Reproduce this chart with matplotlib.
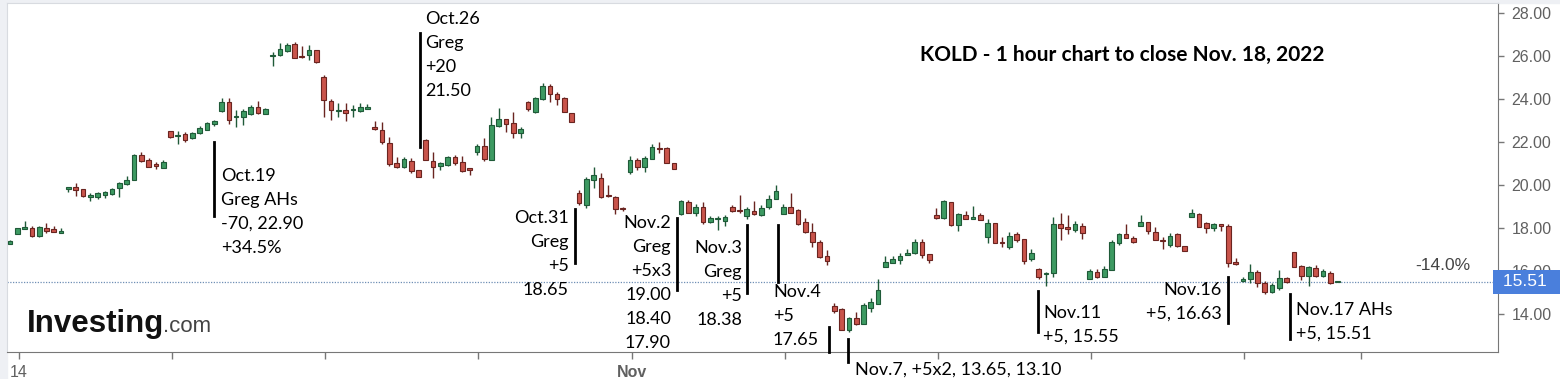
import numpy as np
import matplotlib
matplotlib.use("Agg")
import matplotlib.pyplot as plt
import matplotlib.transforms as mtransforms
from matplotlib.lines import Line2D
from matplotlib.patches import Rectangle

# KOLD hourly candles, Oct.14 -> Nov.18 2022
opens = [17.28, 17.73, 17.97, 18.00, 17.66, 18.00, 17.95, 17.77, 19.83, 19.93,
         19.81, 19.47, 19.47, 19.55, 19.60, 19.86, 20.05, 20.25, 21.41, 21.20,
         20.96, 20.82, 22.54, 22.28, 22.39, 22.19, 22.42, 22.57, 22.84, 23.46,
         23.86, 23.17, 23.19, 23.32, 23.63, 23.32, 26.00, 26.05, 26.25, 26.57,
         25.97, 26.04, 26.27, 25.02, 23.92, 23.45, 23.50, 23.48, 23.47, 23.53,
         22.73, 22.57, 21.95, 21.05, 20.87, 21.13, 20.71, 22.13, 21.13, 20.90,
         20.95, 21.30, 21.10, 20.80, 21.56, 21.83, 21.18, 22.76, 23.07, 22.88,
         22.42, 23.89, 23.42, 24.00, 24.62, 24.25, 24.08, 23.35, 19.64, 19.10,
         20.25, 20.36, 19.52, 19.44, 18.90, 20.63, 21.20, 20.87, 21.21, 21.72,
         21.73, 21.05, 18.67, 19.24, 18.70, 18.98, 18.31, 18.45, 18.35, 18.98,
         18.83, 18.57, 18.82, 18.61, 18.98, 19.35, 18.66, 19.00, 18.85, 18.28,
         17.84, 17.38, 16.72, 14.40, 14.23, 13.27, 13.81, 13.55, 14.31, 14.49,
         16.19, 16.40, 16.53, 16.75, 16.84, 17.35, 16.80, 18.62, 18.46, 19.24,
         18.15, 18.62, 18.43, 18.62, 17.58, 18.26, 17.35, 17.14, 17.73, 17.49,
         16.56, 16.09, 15.86, 15.93, 18.18, 18.05, 17.92, 18.12, 15.63, 15.95,
         15.72, 16.06, 17.30, 17.72, 17.53, 18.12, 18.30, 17.84, 17.45, 17.22,
         17.72, 17.20, 18.51, 18.66, 18.26, 18.00, 18.18, 18.12, 16.45, 15.55,
         15.63, 15.98, 15.44, 15.05, 15.21, 15.67, 16.91, 16.25, 15.79, 16.17,
         15.77, 15.91, 15.50]
highs = [17.45, 18.00, 18.33, 18.10, 18.10, 18.23, 18.10, 18.03, 19.93, 20.09,
         19.81, 19.63, 19.70, 19.75, 19.88, 20.17, 20.43, 21.45, 21.53, 21.25,
         21.10, 21.17, 22.54, 22.52, 22.47, 22.50, 22.75, 22.95, 23.03, 24.05,
         24.05, 23.50, 23.55, 23.72, 23.90, 23.60, 26.20, 26.63, 26.63, 26.65,
         26.50, 26.53, 26.30, 25.13, 24.01, 23.84, 23.84, 23.75, 23.85, 23.77,
         22.99, 22.96, 22.23, 21.33, 21.33, 21.27, 20.71, 22.15, 21.53, 21.08,
         21.35, 21.43, 21.35, 20.80, 21.93, 22.19, 23.19, 23.58, 23.07, 23.42,
         22.73, 23.93, 24.12, 24.74, 24.70, 24.34, 24.12, 23.35, 19.80, 20.40,
         20.84, 20.56, 20.01, 19.50, 18.98, 21.35, 21.29, 21.35, 21.92, 22.03,
         21.80, 21.05, 19.32, 19.30, 19.13, 19.24, 18.57, 18.57, 18.63, 19.10,
         19.55, 19.00, 19.28, 19.10, 19.55, 20.01, 19.12, 19.65, 18.92, 18.50,
         18.26, 17.45, 16.99, 14.54, 14.30, 13.86, 14.12, 14.52, 14.75, 15.63,
         16.71, 16.71, 16.86, 17.06, 17.49, 17.49, 16.80, 18.93, 19.33, 19.24,
         18.73, 18.82, 19.04, 18.70, 18.42, 18.26, 17.58, 17.84, 17.84, 17.49,
         17.06, 16.16, 15.95, 18.54, 18.70, 18.62, 18.33, 18.26, 16.09, 16.09,
         16.25, 17.46, 17.80, 18.20, 17.65, 18.62, 18.30, 18.04, 17.61, 17.80,
         17.80, 17.20, 18.88, 18.70, 18.30, 18.26, 18.18, 18.18, 16.60, 15.75,
         16.34, 16.06, 15.57, 15.46, 16.06, 15.72, 16.91, 16.30, 16.25, 16.28,
         16.10, 16.03, 15.56]
lows = [17.25, 17.73, 17.97, 17.58, 17.58, 17.77, 17.83, 17.77, 19.70, 19.50,
        19.47, 19.27, 19.35, 19.40, 19.55, 19.47, 20.00, 20.25, 21.10, 20.85,
        20.74, 20.80, 22.19, 21.92, 22.02, 22.15, 22.37, 22.55, 22.78, 23.43,
        22.84, 22.70, 22.80, 23.28, 23.30, 23.30, 25.55, 26.00, 26.20, 25.90,
        25.90, 25.83, 25.70, 23.16, 23.04, 23.16, 23.00, 23.20, 23.43, 23.53,
        22.57, 21.92, 20.90, 20.80, 20.80, 20.58, 20.37, 21.18, 20.33, 20.70,
        20.90, 20.93, 20.60, 20.47, 21.40, 21.13, 21.18, 22.73, 22.50, 22.19,
        22.19, 23.47, 23.38, 23.98, 23.86, 23.72, 23.40, 22.96, 19.10, 18.93,
        19.86, 19.40, 19.47, 18.67, 18.80, 20.52, 20.70, 20.60, 21.21, 21.49,
        21.06, 20.76, 18.62, 18.70, 18.57, 18.20, 18.26, 17.92, 18.10, 18.74,
        18.73, 18.42, 18.60, 18.57, 18.92, 19.35, 18.66, 18.73, 18.15, 17.77,
        17.12, 16.60, 16.30, 14.07, 13.27, 13.19, 13.50, 13.55, 14.10, 14.49,
        16.19, 16.40, 16.33, 16.75, 16.82, 16.60, 16.40, 18.42, 18.42, 18.10,
        17.89, 18.42, 18.43, 18.38, 17.30, 17.30, 17.14, 17.02, 17.37, 16.36,
        16.50, 15.65, 15.32, 15.72, 17.46, 17.73, 17.84, 17.50, 15.63, 15.68,
        15.72, 16.06, 17.23, 17.53, 17.30, 18.12, 17.73, 17.46, 17.02, 17.13,
        17.15, 16.96, 18.51, 18.07, 17.80, 17.88, 17.88, 16.20, 16.30, 15.52,
        15.44, 15.28, 14.94, 14.98, 15.12, 15.46, 16.21, 15.60, 15.30, 15.75,
        15.72, 15.40, 15.49]
closes = [17.42, 18.00, 18.07, 17.66, 18.05, 17.89, 17.83, 17.87, 19.93, 19.78,
          19.50, 19.53, 19.63, 19.67, 19.81, 20.09, 20.25, 21.41, 21.14, 20.87,
          20.92, 21.07, 22.26, 22.31, 22.11, 22.45, 22.65, 22.91, 23.00, 23.86,
          23.03, 23.20, 23.47, 23.63, 23.35, 23.56, 26.03, 26.33, 26.53, 25.90,
          25.95, 26.27, 25.75, 23.97, 23.50, 23.47, 23.35, 23.50, 23.66, 23.62,
          22.62, 22.00, 20.98, 20.87, 21.21, 20.68, 20.40, 21.20, 20.87, 21.02,
          21.33, 21.02, 20.68, 20.71, 21.83, 21.21, 22.80, 23.07, 22.84, 22.42,
          22.60, 23.53, 24.04, 24.62, 24.25, 24.01, 23.40, 22.96, 19.20, 20.29,
          20.48, 19.47, 19.50, 18.88, 18.88, 21.20, 20.87, 21.26, 21.77, 21.68,
          21.06, 20.76, 19.27, 18.73, 18.98, 18.31, 18.46, 18.47, 18.53, 18.81,
          18.80, 18.90, 18.66, 18.96, 19.35, 19.73, 19.00, 18.73, 18.20, 17.81,
          17.38, 16.65, 16.48, 14.17, 13.27, 13.81, 13.55, 14.44, 14.59, 15.13,
          16.45, 16.57, 16.71, 16.86, 17.38, 16.77, 16.52, 18.46, 19.28, 18.15,
          18.65, 18.42, 18.52, 18.38, 18.26, 17.30, 17.32, 17.64, 17.46, 16.48,
          16.86, 15.72, 15.93, 18.18, 18.03, 17.95, 18.18, 17.80, 16.01, 15.72,
          16.09, 17.38, 17.73, 17.53, 17.38, 18.30, 17.89, 17.46, 17.40, 17.64,
          17.20, 16.96, 18.70, 18.07, 18.00, 18.18, 18.10, 16.40, 16.34, 15.62,
          15.98, 15.44, 15.05, 15.36, 15.67, 15.52, 16.21, 15.79, 16.22, 15.79,
          16.00, 15.47, 15.52]

last_price = 15.51
change_label = "-14.0%"
price_ticks = [14, 16, 18, 20, 22, 24, 26, 28]
date_ticks = [1.2, 22.2, 43.2, 64.2, 85.2, 106.2, 127.2, 148.2, 169.2, 185.2]
date_labels = ["14", "", "", "", "Nov", "", "", "", "", ""]
title = "KOLD - 1 hour chart to close Nov. 18, 2022"

W, H = 1560, 379
fig = plt.figure(figsize=(W / 100, H / 100), dpi=100, facecolor="white")
# image-pixel transform (origin top-left)
pix = mtransforms.Affine2D().scale(1 / W, -1 / H).translate(0, 1) + fig.transFigure

fig.add_artist(Rectangle((0, 0), 7, H, transform=pix, color="#eef0f4", zorder=0))
fig.add_artist(Rectangle((0, 0), W, 3, transform=pix, color="#eef0f4", zorder=0))

ax = fig.add_axes([7.3 / W, 1 - 352.3 / H, 1490.4 / W, 349.0 / H])
ax.set_xlim(-0.37, 203.93)
ax.set_ylim(12.233, 28.465)

o = np.array(opens); h = np.array(highs); l = np.array(lows); c = np.array(closes)
idx = np.arange(len(o))
up = c >= o
face = np.where(up, "#3d9a62", "#c9544b")
edge = np.where(up, "#1f5a38", "#6a2420")
ax.vlines(idx, l, h, colors=edge, lw=1.0, zorder=2)
body_lo = np.minimum(o, c)
body_h = np.maximum(np.abs(c - o), 0.05)
ax.bar(idx, body_h, bottom=body_lo, width=0.64, color=face, edgecolor=edge,
       linewidth=0.8, zorder=3)

ax.axhline(last_price, color="#6f8fb5", lw=0.9, ls=(0, (1, 1.2)), zorder=1)

for s in ["top", "left"]:
    ax.spines[s].set_color("#d8dbe0")
ax.spines["right"].set_color("#777777")
ax.spines["bottom"].set_color("#777777")
ax.yaxis.tick_right()
ax.set_yticks(price_ticks)
ax.set_yticklabels([f"{v:.2f}" for v in price_ticks])
ax.tick_params(axis="y", length=4, width=1, color="#777777", pad=6,
               labelsize=11.5, labelcolor="#606060")
ax.set_xticks(date_ticks)
ax.set_xticklabels(date_labels)
ax.tick_params(axis="x", length=5, width=1, color="#777777", pad=4,
               labelsize=11.5, labelcolor="#606060")
for t in ax.get_xticklabels():
    if t.get_text() == "Nov":
        t.set_fontweight("bold")
for t in ax.get_yticklabels() + ax.get_xticklabels():
    t.set_family(["Liberation Sans", "DejaVu Sans"])

# last price marker (covers the 16.00 label as on the original)
ax.text(1.0, last_price, f" {last_price:.2f}  ", transform=ax.get_yaxis_transform(),
        ha="left", va="center", color="white", fontsize=12.5,
        family=["Liberation Sans", "DejaVu Sans"], zorder=6,
        bbox=dict(boxstyle="square,pad=0.25", fc="#4a7fdc", ec="none"))
fig.text(1470, 265, change_label, transform=pix, ha="right", va="center",
         fontsize=12.5, color="#444444", family=["Liberation Sans", "DejaVu Sans"])

fig.text(920, 55, title, transform=pix, ha="left", va="center", fontsize=15,
         fontweight="bold", family=["Lato", "DejaVu Sans"])

# watermark
fig.text(27, 332, "Investing", transform=pix, ha="left", va="baseline",
         fontsize=22.5, fontweight="bold", color="#111111",
         family=["Liberation Sans", "DejaVu Sans"])
fig.text(163, 332, ".com", transform=pix, ha="left", va="baseline",
         fontsize=16, color="#444444", family=["Liberation Sans", "DejaVu Sans"])


def note(x, y, lines, ha="left", step=24):
    for k, s in enumerate(lines):
        fig.text(x, y + k * step, s, transform=pix, ha=ha, va="center",
                 fontsize=13, family=["Lato", "DejaVu Sans"])


def mark(x, y0, y1):
    fig.add_artist(Line2D([x, x], [y0, y1], transform=pix, color="black", lw=2))


mark(213.5, 142, 216)
note(221, 176, ["Oct.19", "Greg AHs", "-70, 22.90", "+34.5%"])
mark(419.7, 33, 147)
note(425, 19, ["Oct.26", "Greg", "+20", "21.50"])
mark(574.5, 209, 263)
note(569, 218, ["Oct.31", "Greg", "+5", "18.65"], ha="right")
mark(677, 218, 290)
note(671, 223, ["Nov.2", "Greg", "+5x3", "19.00", "18.40", "17.90"], ha="right")
mark(746.7, 225, 293)
note(742, 248, ["Nov.3", "Greg", "+5", "18.38"], ha="right")
mark(777.7, 225, 282)
note(773, 292, ["Nov.4", "+5", "17.65"])
mark(829, 327, 352)
mark(848.3, 339, 362)
note(855, 370, ["Nov.7, +5x2, 13.65, 13.10"])
mark(1037.7, 291, 332)
note(1043, 313, ["Nov.11", "+5, 15.55"])
mark(1228, 277, 323)
note(1222, 290, ["Nov.16", "+5, 16.63"], ha="right")
mark(1290, 294, 339)
note(1296, 310, ["Nov.17 AHs", "+5, 15.51"])

fig.savefig("out.png", dpi=100, facecolor=fig.get_facecolor())
